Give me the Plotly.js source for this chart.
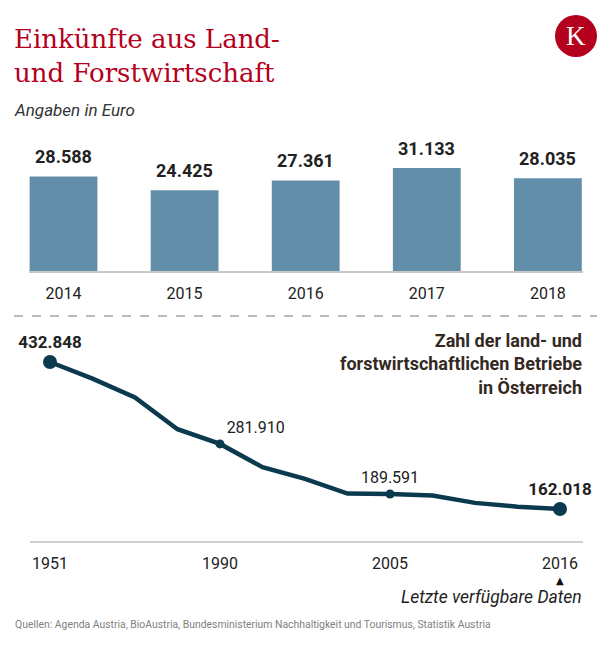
<!DOCTYPE html>
<html>
<head>
<meta charset="utf-8">
<script src="https://cdn.plot.ly/plotly-3.0.1.min.js"></script>
<style>html,body{margin:0;padding:0;background:#fff;}#chart{width:616px;height:645px;}</style>
</head>
<body>
<div id="chart"></div>
<script>
// ---- data ----
const barYears = ['2014', '2015', '2016', '2017', '2018'];
const barValues = [28588, 24425, 27361, 31133, 28035];

const lineYears = ['1951', '1960', '1970', '1980', '1990', '1995', '1999', '2003', '2005', '2007', '2010', '2013', '2016'];
const lineValues = [432848, 402286, 367738, 309000, 281910, 239099, 217508, 190382, 189591, 187034, 173317, 166317, 162018];
const lineTickYears = ['1951', '1990', '2005', '2016'];
const bigMarkYears = ['1951', '2016'];
const smallMarkYears = ['1990', '2005'];

const W = 616, H = 645;
const px = v => v / W;
const py = v => 1 - v / H;
const valOf = yr => lineValues[lineYears.indexOf(yr)];
const fmt = v => String(v).replace(/\B(?=(\d{3})+(?!\d))/g, '.');

const barColor = '#638ea9';
const lineColor = '#0b3a4f';
const textDark = '#222222';

const traces = [
  {
    type: 'bar', x: barYears, y: barValues, xaxis: 'x', yaxis: 'y',
    marker: {color: barColor}, hoverinfo: 'skip'
  },
  {
    type: 'scatter', mode: 'lines', x: lineYears, y: lineValues, xaxis: 'x2', yaxis: 'y2',
    line: {color: lineColor, width: 4.5}, hoverinfo: 'skip'
  },
  {
    type: 'scatter', mode: 'markers+text', x: bigMarkYears, y: bigMarkYears.map(valOf),
    xaxis: 'x2', yaxis: 'y2', cliponaxis: false,
    marker: {color: lineColor, size: 14},
    text: bigMarkYears.map(y => fmt(valOf(y))), textposition: 'top center',
    textfont: {family: 'Roboto', size: 17, weight: 700, color: textDark}, hoverinfo: 'skip'
  },
  {
    type: 'scatter', mode: 'markers+text', x: smallMarkYears, y: smallMarkYears.map(valOf),
    xaxis: 'x2', yaxis: 'y2', cliponaxis: false,
    marker: {color: lineColor, size: 9},
    text: smallMarkYears.map(y => fmt(valOf(y))), textposition: ['top right', 'top center'],
    textfont: {family: 'Roboto', size: 16, color: textDark}, hoverinfo: 'skip'
  }
];

const annotations = [
  {xref: 'paper', yref: 'paper', x: px(12), y: py(110), xanchor: 'left', yanchor: 'middle',
   text: 'Angaben in Euro', showarrow: false,
   font: {family: 'Roboto', size: 17, style: 'italic', color: '#333'}},
  {xref: 'paper', yref: 'paper', x: px(576), y: py(36), xanchor: 'center', yanchor: 'middle',
   text: 'K', showarrow: false,
   font: {family: 'Liberation Serif', size: 27, color: '#fff'}},
  {xref: 'paper', yref: 'paper', x: px(584), y: py(328), xanchor: 'right', yanchor: 'top', align: 'right',
   text: 'Zahl der land- und<br>forstwirtschaftlichen Betriebe<br>in Österreich', showarrow: false,
   font: {family: 'Roboto', size: 18, weight: 700, color: '#33291f'}},
  {xref: 'paper', yref: 'paper', x: px(560), y: py(580), xanchor: 'center', yanchor: 'middle',
   text: '▲', showarrow: false, font: {family: 'DejaVu Sans', size: 10, color: '#111'}},
  {xref: 'paper', yref: 'paper', x: px(584), y: py(597), xanchor: 'right', yanchor: 'middle',
   text: 'Letzte verfügbare Daten', showarrow: false,
   font: {family: 'Roboto', size: 17.5, style: 'italic', color: textDark}},
  {xref: 'paper', yref: 'paper', x: px(13), y: py(624), xanchor: 'left', yanchor: 'middle',
   text: 'Quellen: Agenda Austria, BioAustria, Bundesministerium Nachhaltigkeit und Tourismus, Statistik Austria',
   showarrow: false, font: {family: 'Roboto', size: 10.4, color: '#808080'}}
];
barYears.forEach((yr, i) => {
  annotations.push({xref: 'x', yref: 'y', x: i, y: barValues[i], xanchor: 'center', yanchor: 'bottom',
    yshift: 7, text: fmt(barValues[i]), showarrow: false,
    font: {family: 'Roboto', size: 18, weight: 700, color: textDark}});
});

const layout = {
  width: W, height: H,
  margin: {l: 0, r: 0, t: 0, b: 0},
  paper_bgcolor: '#fff', plot_bgcolor: 'rgba(0,0,0,0)',
  showlegend: false,
  bargap: 0.44,
  title: {
    text: 'Einkünfte aus Land-<br>und Forstwirtschaft',
    x: px(14), xanchor: 'left', xref: 'paper',
    y: py(48), yanchor: 'top', yref: 'container',
    font: {family: 'DejaVu Serif', size: 26, color: '#b5001d'}
  },
  xaxis: {
    domain: [px(29), px(583)], range: [-0.285, 4.29], type: 'category',
    showline: true, linecolor: '#c8c8c8', linewidth: 1.5,
    showgrid: false, zeroline: false, ticks: '', ticklabelstandoff: 7,
    tickfont: {family: 'Roboto', size: 16, color: textDark}
  },
  yaxis: {
    domain: [py(271), py(150)], range: [0, 36578],
    showgrid: false, zeroline: false, showticklabels: false, showline: false
  },
  xaxis2: {
    anchor: 'y2', domain: [px(30), px(583)], range: [-0.4706, 12.541], type: 'category',
    tickmode: 'array', tickvals: lineTickYears, ticktext: lineTickYears,
    showline: true, linecolor: '#d0d0d0', linewidth: 1.5,
    showgrid: false, zeroline: false, ticks: '', ticklabelstandoff: 7,
    tickfont: {family: 'Roboto', size: 16, color: textDark}
  },
  yaxis2: {
    anchor: 'x2', domain: [py(541), py(330)], range: [103064, 491801],
    showgrid: false, zeroline: false, showticklabels: false, showline: false
  },
  shapes: [
    {type: 'circle', xref: 'paper', yref: 'paper', x0: px(555), x1: px(597), y0: py(15), y1: py(57),
     fillcolor: '#b5001d', line: {width: 0}},
    {type: 'line', xref: 'paper', yref: 'paper', x0: px(14), x1: px(597), y0: py(316), y1: py(316),
     line: {color: '#777', width: 1, dash: 'dash'}}
  ],
  annotations: annotations
};

Plotly.newPlot('chart', traces, layout, {staticPlot: true, displayModeBar: false});
</script>
</body>
</html>
